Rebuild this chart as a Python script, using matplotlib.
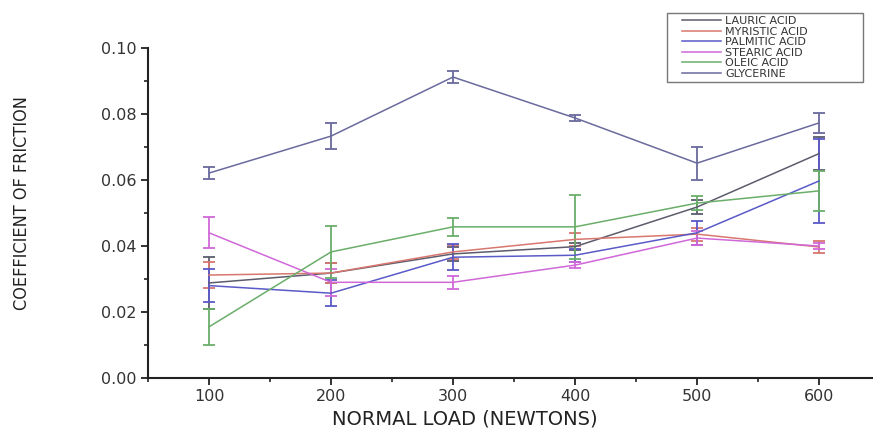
import matplotlib
matplotlib.use('Agg')
import matplotlib.pyplot as plt
from matplotlib.lines import Line2D
from matplotlib.legend_handler import HandlerLine2D
from matplotlib.ticker import MultipleLocator

# data
loads = [100, 200, 300, 400, 500, 600]

lauric = [0.0288, 0.0318, 0.0376, 0.0398, 0.0518, 0.0680]
lauric_err = [0.0080, 0.0030, 0.0020, 0.0010, 0.0020, 0.0050]

myristic = [0.0312, 0.0318, 0.0382, 0.0420, 0.0436, 0.0397]
myristic_err = [0.0040, 0.0030, 0.0020, 0.0020, 0.0020, 0.0018]

palmitic = [0.0280, 0.0257, 0.0366, 0.0372, 0.0440, 0.0597]
palmitic_err = [0.0050, 0.0040, 0.0040, 0.0020, 0.0037, 0.0128]

stearic = [0.0440, 0.0290, 0.0290, 0.0342, 0.0424, 0.0400]
stearic_err = [0.0047, 0.0040, 0.0020, 0.0010, 0.0020, 0.0010]

oleic = [0.0155, 0.0382, 0.0458, 0.0458, 0.0530, 0.0567]
oleic_err = [0.0055, 0.0080, 0.0027, 0.0097, 0.0022, 0.0060]

glycerine = [0.0621, 0.0733, 0.0912, 0.0788, 0.0651, 0.0773]
glycerine_err = [0.0018, 0.0040, 0.0018, 0.0010, 0.0050, 0.0030]

names = ['LAURIC ACID', 'MYRISTIC ACID', 'PALMITIC ACID', 'STEARIC ACID',
         'OLEIC ACID', 'GLYCERINE']
series = [lauric, myristic, palmitic, stearic, oleic, glycerine]
errors = [lauric_err, myristic_err, palmitic_err, stearic_err, oleic_err, glycerine_err]
colors = ['#5c5c6c', '#d8776f', '#5a5ac8', '#d068d8', '#6aae6a', '#6a6a9e']

##################################################################

fig = plt.figure(figsize=(8.73, 4.28), dpi=100)
# axes placed in pixels: left spine x=148, bottom y=378, top y=48
ax = fig.add_axes([148 / 873, 1 - 378 / 428, 732 / 873, 330 / 428])

for name, vals, err, col in zip(names, series, errors, colors):
	ax.errorbar(loads, vals, yerr=err, color=col, lw=1.1, elinewidth=1.3,
		capsize=4.5, capthick=1.3, label=name)

ax.set_xlim(50, 650)
ax.set_ylim(0, 0.10)

ax.xaxis.set_major_locator(MultipleLocator(100))
ax.xaxis.set_minor_locator(MultipleLocator(50))
ax.yaxis.set_major_locator(MultipleLocator(0.02))
ax.yaxis.set_minor_locator(MultipleLocator(0.01))
ax.yaxis.set_major_formatter(plt.FormatStrFormatter('%.2f'))

ax.spines['top'].set_visible(False)
ax.spines['right'].set_visible(False)
for s in ('left', 'bottom'):
	ax.spines[s].set_linewidth(1.5)
	ax.spines[s].set_color('#222222')

ax.tick_params(which='major', direction='out', length=5, width=1.3,
	labelsize=11.5, colors='#222222', pad=3)
ax.tick_params(which='minor', direction='out', length=3, width=1.2, colors='#222222')
for lab in ax.get_xticklabels() + ax.get_yticklabels():
	lab.set_color('#333333')

# axis titles
fig.text(465 / 873, 1 - 419 / 428, 'NORMAL LOAD (NEWTONS)', ha='center', va='center',
	fontsize=14, color='#222222')
fig.text(22 / 873, 1 - 203 / 428, 'COEFFICIENT OF FRICTION', rotation=90,
	ha='center', va='center', fontsize=13, color='#222222',
	family='DejaVu Sans', fontstretch='condensed')

# legend with plain line handles, box spans x 667-863, y 13-86
handles = [Line2D([], [], color=c, lw=1.1) for c in colors]
leg = fig.legend(handles, names, loc='upper left',
	bbox_to_anchor=(667 / 873, 1 - 86 / 428, 196 / 873, 73 / 428), mode='expand',
	fontsize=8, frameon=True, fancybox=False, handlelength=4.6,
	handletextpad=0.36, labelspacing=0.04, borderpad=0.3, borderaxespad=0,
	handler_map={Line2D: HandlerLine2D(xpad=1.08)})
leg.get_frame().set_edgecolor('#555555')
leg.get_frame().set_linewidth(1.0)
for t in leg.get_texts():
	t.set_color('#333333')

fig.savefig('out.png', dpi=100)
